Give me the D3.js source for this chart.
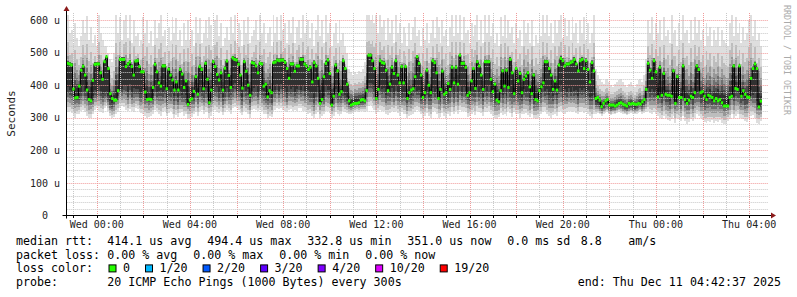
<!DOCTYPE html>
<html>
<head>
<meta charset="utf-8">
<script src="https://cdn.jsdelivr.net/npm/d3@7"></script>
<style>
body { margin: 0; background: #fff; }
text { font-family: "DejaVu Sans Mono", monospace; white-space: pre; }
</style>
</head>
<body>
<div id="chart"></div>
<script>
var width = 797,
    height = 297,
    plot = {left: 66.7, right: 765.7, top: 13, bottom: 215.5, gridRight: 768},
    stepSec = 300;

// median rtt per 5 minute step, in microseconds
var median = [
  467,465,462,388,361,362,397,446,458,431,385,356,352,415,464,465,465,438,418,472,
  487,451,374,359,354,354,383,479,479,479,457,465,471,457,431,474,475,457,441,441,
  379,356,357,356,393,464,441,407,397,459,459,389,449,431,416,385,410,385,448,434,
  393,413,
  341,354,358,381,426,372,457,448,389,467,418,346,385,472,457,433,416,438,385,452,
  474,430,393,484,479,477,464,431,391,472,443,400,369,469,467,459,438,467,465,397,
  403,364,383,377,469,471,477,475,477,477,470,451,421,465,465,443,459,459,479,479,
  465,459,
  448,455,410,469,459,421,344,356,426,467,477,436,339,366,462,444,372,380,475,451,
  403,352,339,342,344,344,346,354,356,352,383,492,492,475,451,359,387,475,469,467,
  446,383,403,455,436,475,431,407,457,407,457,359,377,385,389,426,487,467,431,362,
  377,
  446,400,377,475,469,438,359,387,443,372,377,405,387,455,407,455,403,492,467,467,
  455,369,377,413,451,390,472,459,431,387,472,472,472,418,380,403,354,349,383,444,
  397,446,393,479,438,374,451,413,436,377,418,428,438,395,374,431,356,352,383,395,
  407,472,
  472,451,431,387,413,385,462,482,475,459,465,465,469,472,479,465,444,475,479,451,
  475,448,410,469,444,359,362,354,334,344,352,356,339,339,339,336,339,344,346,342,
  339,336,344,342,344,342,341,344,342,349,356,387,467,446,421,475,441,364,
  455,369,436,372,369,369,366,444,344,426,362,362,459,356,344,354,366,362,377,459,
  448,377,380,366,356,369,366,362,352,359,352,356,346,336,336,336,362,366,459,390,
  387,459,366,383,372,364,362,421,451,465,451,333,351
];

// highest and lowest of the 20 pings per step (smoke envelope)
var pingMax = [
  615,560,570,530,590,545,520,550,600,560,612,540,580,530,555,520,615,560,540,520,
  520,500,480,470,500,615,560,610,540,600,615,545,615,530,600,550,560,520,540,610,
  560,600,530,565,520,600,545,590,615,550,570,520,580,535,610,560,605,540,570,520,
  590,540,
  600,540,570,520,610,560,605,530,560,600,545,610,585,520,600,615,550,590,520,545,
  580,540,610,560,615,530,590,570,520,600,560,610,530,550,570,600,540,615,560,590,
  530,560,580,520,615,560,610,540,615,570,590,530,600,560,610,530,580,600,545,615,
  560,585,
  600,545,590,520,570,615,550,600,530,615,560,590,520,560,590,530,600,540,560,520,
  500,450,440,430,440,435,445,440,450,470,615,615,600,615,590,615,560,615,580,600,
  540,605,560,600,530,615,560,590,530,580,560,520,590,540,580,610,550,570,520,575,
  540,
  590,530,560,600,545,610,580,530,600,550,570,520,580,615,550,615,560,615,540,610,
  560,570,530,590,550,585,615,540,600,530,615,560,615,550,590,530,560,520,610,550,
  615,545,600,560,580,530,590,545,570,520,600,560,590,530,600,520,555,530,590,550,
  615,560,
  615,550,590,530,600,560,600,615,545,605,550,600,540,610,560,590,530,600,560,610,
  540,590,530,560,615,450,430,420,410,405,415,420,410,400,395,405,410,415,420,410,
  400,395,405,410,400,395,405,415,420,410,430,480,600,560,610,540,590,560,
  600,540,610,550,570,530,615,560,570,520,590,540,615,560,570,530,600,540,610,560,
  600,540,570,520,590,550,580,520,570,540,580,520,570,540,530,520,590,615,550,610,
  560,590,530,580,540,560,600,615,550,600,540,560,520
];

var pingMin = [
  318,322,315,305,300,310,312,320,325,318,305,300,298,310,325,330,322,318,315,330,
  335,320,305,300,302,310,318,330,335,332,325,320,328,322,318,330,328,320,315,312,
  305,300,302,305,312,325,320,310,305,318,322,305,315,320,312,300,308,302,315,318,
  305,310,
  295,298,302,310,318,305,320,325,310,318,320,300,305,322,325,318,315,320,308,318,
  325,320,310,330,332,330,325,315,308,322,318,310,300,325,328,325,320,325,322,310,
  312,300,305,302,320,325,330,328,330,325,322,318,325,328,320,325,322,330,330,322,
  320,318,
  310,315,305,300,312,318,300,305,310,320,322,315,300,305,318,312,305,310,320,318,
  315,312,310,315,318,320,318,322,320,318,320,335,338,330,325,310,318,325,322,320,
  312,308,315,320,318,322,315,305,318,310,312,300,305,308,312,318,325,320,310,300,
  305,
  315,305,300,318,320,312,300,302,315,305,300,310,305,318,310,320,312,325,322,320,
  318,302,305,310,318,308,320,318,315,305,318,318,320,312,305,298,295,302,315,308,
  312,305,320,315,302,318,310,312,300,310,312,315,308,302,312,298,295,300,305,310,
  318,320,
  310,305,300,308,312,305,318,320,315,312,318,320,322,318,320,315,310,318,322,315,
  318,312,305,300,310,312,315,310,305,312,315,318,310,308,312,310,315,318,315,312,
  310,308,312,315,312,310,312,315,318,312,315,318,320,315,310,318,312,305,
  300,295,305,298,292,290,295,305,285,300,295,290,305,290,282,288,295,290,300,310,
  305,298,292,288,285,290,288,292,285,290,288,292,285,280,282,290,295,310,300,305,
  312,298,300,295,290,288,300,305,308,300,285,282,290
];

var yTicks = [0, 100, 200, 300, 400, 500, 600];
var yTickLabels = ["0  ", "100 u", "200 u", "300 u", "400 u", "500 u", "600 u"];

var lossLabels = ["0", "1/20", "2/20", "3/20", "4/20", "10/20", "19/20"];
var lossColors = ["#26ff00", "#00b8ff", "#0059ff", "#5e00ff", "#7e00ff", "#dd00ff", "#ff0000"];

var rttItems = ["median rtt:", "414.1 us avg", "494.4 us max", "332.8 us min", "351.0 us now", "0.0 ms sd", "8.8", "am/s"];
var lossItems = ["packet loss:", "0.00 % avg", "0.00 % max", "0.00 % min", "0.00 % now"];
var probeText = "20 ICMP Echo Pings (1000 Bytes) every 300s";
var endText = "end: Thu Dec 11 04:42:37 2025";

// legend layout (x of each item)
var rttX = [16, 107.3, 207.3, 307.3, 407.3, 507.3, 580.7, 628.3],
    lossX = [16, 107.3, 193.3, 279.3, 365.3],
    legendY = [245, 258.7, 272.4, 286.1],
    legendFont = 11.65;

var end = new Date(2025, 11, 11, 4, 42, 37),
    start = new Date(+end - 30 * 3600 * 1000);

var x = d3.scaleTime().domain([start, end]).range([plot.left, plot.right]);
var y = d3.scaleLinear().domain([0, 600]).range([plot.bottom, 20]);

var svg = d3.select("#chart").append("svg")
  .attr("width", width)
  .attr("height", height);

svg.append("rect").attr("width", width).attr("height", height).attr("fill", "#fff");

var N = median.length;
var rows = d3.range(N + 1).map(function(i) {
  var j = Math.min(i, N - 1);
  return {t: new Date(+start + i * stepSec * 1000), med: median[j], hi: Math.max(pingMax[j], median[j] + 5), lo: Math.min(pingMin[j], median[j] - 5)};
});

svg.append("clipPath").attr("id", "clip")
  .append("rect")
  .attr("x", plot.left).attr("y", plot.top)
  .attr("width", plot.gridRight - plot.left).attr("height", plot.bottom - plot.top);

var g = svg.append("g").attr("clip-path", "url(#clip)");

// smoke: bands between the envelope, darker toward the middle
var bands = [
  {a: 0,    b: 1,    d: 0, color: "#dedede"},
  {a: 0.05, b: 0.72, d: 4, color: "#bdbdbd"},
  {a: 0.1,  b: 0.58, d: 6, color: "#979797"},
  {a: 0.15, b: 0.48, d: 7, color: "#707070"},
  {a: 0.2,  b: 0.4,  d: 6, color: "#4c4c4c"},
  {a: 0.26, b: 0.34, d: 4, color: "#303030"}
];

bands.forEach(function(band) {
  var area = d3.area()
    .curve(d3.curveStepAfter)
    .x(function(d) { return x(d.t); })
    .y0(function(d) { return y(Math.min(d.lo + band.a * (d.hi - d.lo), d.med - band.d)); })
    .y1(function(d) { return y(Math.max(d.lo + band.b * (d.hi - d.lo), d.med + band.d)); });
  g.append("path")
    .datum(rows)
    .attr("d", area)
    .attr("fill", band.color)
    .attr("shape-rendering", "crispEdges");
});

// grid
var hours = d3.timeHour.every(1).range(start, end);
var yGrid = d3.range(0, 620, 20);

g.selectAll(".vgrid")
  .data(hours)
  .enter().append("line")
  .attr("x1", function(d) { return Math.round(x(d)) + 0.5; })
  .attr("x2", function(d) { return Math.round(x(d)) + 0.5; })
  .attr("y1", plot.top)
  .attr("y2", plot.bottom)
  .attr("stroke", function(d) { return d.getHours() % 2 === 0 ? "#f09a9a" : "#c8c8c8"; })
  .attr("stroke-dasharray", "1,1");

g.selectAll(".hgrid")
  .data(yGrid.slice(1))
  .enter().append("line")
  .attr("x1", plot.left)
  .attr("x2", plot.gridRight)
  .attr("y1", function(d) { return Math.round(y(d)) + 0.5; })
  .attr("y2", function(d) { return Math.round(y(d)) + 0.5; })
  .attr("stroke", function(d) { return d % 100 === 0 ? "#f09a9a" : "#c8c8c8"; })
  .attr("stroke-dasharray", "1,1");

// median: black steps and green marks
g.selectAll(".step")
  .data(d3.range(1, N))
  .enter().append("line")
  .attr("x1", function(i) { return x(rows[i].t); })
  .attr("x2", function(i) { return x(rows[i].t); })
  .attr("y1", function(i) { return y(median[i - 1]); })
  .attr("y2", function(i) { return y(median[i]); })
  .attr("stroke", "#000")
  .attr("stroke-width", 1);

g.selectAll(".med")
  .data(d3.range(N))
  .enter().append("rect")
  .attr("x", function(i) { return x(rows[i].t) - 0.2; })
  .attr("width", function(i) { return x(rows[i + 1].t) - x(rows[i].t) + 0.4; })
  .attr("y", function(i) { return y(median[i]) - 1.5; })
  .attr("height", 3)
  .attr("fill", lossColors[0]);

// axes
svg.append("line")
  .attr("x1", 62.5).attr("x2", 772).attr("y1", 215.5).attr("y2", 215.5)
  .attr("stroke", "#000");
svg.append("line")
  .attr("x1", 66.5).attr("x2", 66.5).attr("y1", 218.5).attr("y2", 10)
  .attr("stroke", "#000");
svg.append("path").attr("d", "M771,212.5L776,215.5L771,218.5Z").attr("fill", "#8b1a1a");
svg.append("path").attr("d", "M63.5,11L66.5,6L69.5,11Z").attr("fill", "#8b1a1a");

svg.selectAll(".xtick")
  .data(hours)
  .enter().append("line")
  .attr("x1", function(d) { return Math.round(x(d)) + 0.5; })
  .attr("x2", function(d) { return Math.round(x(d)) + 0.5; })
  .attr("y1", 215.5)
  .attr("y2", 218)
  .attr("stroke", "#000");

// tick labels
svg.selectAll(".ylab")
  .data(yTicks)
  .enter().append("text")
  .attr("x", 60)
  .attr("y", function(d) { return y(d) + 3.6; })
  .attr("text-anchor", "end")
  .style("font-size", "10px")
  .attr("fill", "#222")
  .text(function(d, i) { return yTickLabels[i]; });

var xLabels = hours.filter(function(d) { return d.getHours() % 4 === 0; });
var fmt = d3.timeFormat("%a %H:%M");
svg.selectAll(".xlab")
  .data(xLabels)
  .enter().append("text")
  .attr("x", function(d) { return x(d); })
  .attr("y", 228)
  .attr("text-anchor", "middle")
  .style("font-size", "10px")
  .attr("fill", "#222")
  .text(function(d) { return fmt(d); });

svg.append("text")
  .attr("transform", "translate(14.5,113.5) rotate(-90)")
  .attr("text-anchor", "middle")
  .style("font-size", "11px")
  .attr("fill", "#222")
  .text("Seconds");

svg.append("text")
  .attr("transform", "translate(783.5,5) rotate(90)")
  .style("font-size", "8.3px")
  .attr("fill", "#aaa")
  .text("RRDTOOL / TOBI OETIKER");

// legend
function legendText(txt, xx, yy, anchor) {
  svg.append("text")
    .attr("x", xx).attr("y", yy)
    .attr("text-anchor", anchor || "start")
    .style("font-size", legendFont + "px")
    .attr("fill", "#000")
    .text(txt);
}

rttItems.forEach(function(t, i) { legendText(t, rttX[i], legendY[0]); });
lossItems.forEach(function(t, i) { legendText(t, lossX[i], legendY[1]); });
legendText("loss color:", 16, legendY[2]);

var sx = 108.5;
lossLabels.forEach(function(lbl, i) {
  svg.append("rect")
    .attr("x", sx + 0.5).attr("y", legendY[2] - 7.5)
    .attr("width", 7).attr("height", 7)
    .attr("fill", lossColors[i])
    .attr("stroke", "#000");
  legendText(lbl, sx + 14.5, legendY[2]);
  sx = sx + 14.5 + lbl.length * 7.01 + 15;
});

legendText("probe:", 16, legendY[3]);
legendText(probeText, 107.3, legendY[3]);
legendText(endText, 781, legendY[3], "end");
</script>
</body>
</html>
